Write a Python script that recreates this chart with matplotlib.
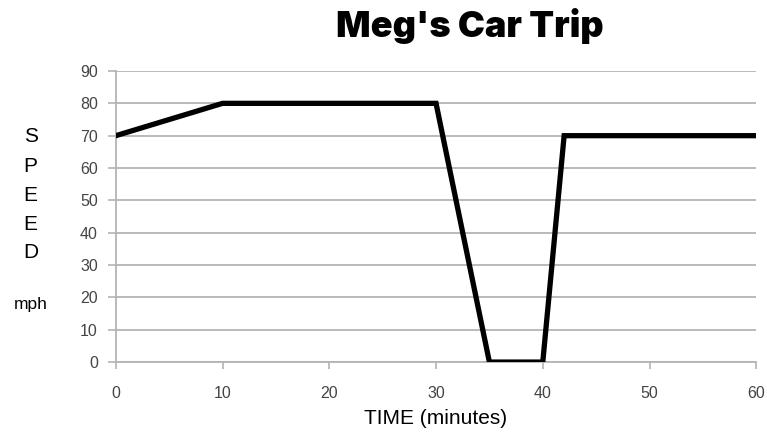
import matplotlib
matplotlib.use("Agg")
import matplotlib.pyplot as plt

# datos del viaje
tiempo = [0, 10, 30, 35, 40, 42, 60]
velocidad = [70, 80, 80, 0, 0, 70, 70]
x_ticks = [0, 10, 20, 30, 40, 50, 60]
y_ticks = [0, 10, 20, 30, 40, 50, 60, 70, 80, 90]

gris = "#b4b4b4"
gris_txt = "#444444"

fig = plt.figure(figsize=(7.67, 4.41), dpi=100)
ax = fig.add_axes([0.151, 0.179, 0.835, 0.66])

ax.plot(tiempo, velocidad, color="black", linewidth=3.8, solid_joinstyle="miter", zorder=3)

ax.set_xlim(0, 60)
ax.set_ylim(0, 90)
ax.set_xticks(x_ticks)
ax.set_yticks(y_ticks)
ax.set_xticklabels([str(v) for v in x_ticks], fontsize=11.5, color=gris_txt, family="Liberation Sans")
ax.set_yticklabels([str(v) for v in y_ticks], fontsize=11.5, color=gris_txt, family="Liberation Sans")
ax.tick_params(axis="x", length=5, width=1.2, color=gris, pad=12)
ax.tick_params(axis="y", length=6, width=1.2, color=gris, pad=7)

ax.grid(True, axis="y", color=gris, linewidth=1.3, zorder=0)
for lado in ["top", "right"]:
    ax.spines[lado].set_visible(False)
for lado in ["left", "bottom"]:
    ax.spines[lado].set_color(gris)
    ax.spines[lado].set_linewidth(1.3)
ax.set_axisbelow(True)

fig.text(0.613, 1 - 37 / 441, "Meg's Car Trip", ha="center", va="baseline", fontsize=26,
         fontweight=900, family="Inter")

ax.set_xlabel("TIME (minutes)", fontsize=15, family="Liberation Sans", labelpad=6)

for i, letra in enumerate("SPEED"):
    fig.text(0.040, 1 - (137 + i * 29) / 441, letra, ha="center", va="center",
             fontsize=15, family="Liberation Sans")
fig.text(0.040, 1 - 305 / 441, "mph", ha="center", va="center", fontsize=12.5, family="Liberation Sans")

fig.savefig("out.png", dpi=100)
